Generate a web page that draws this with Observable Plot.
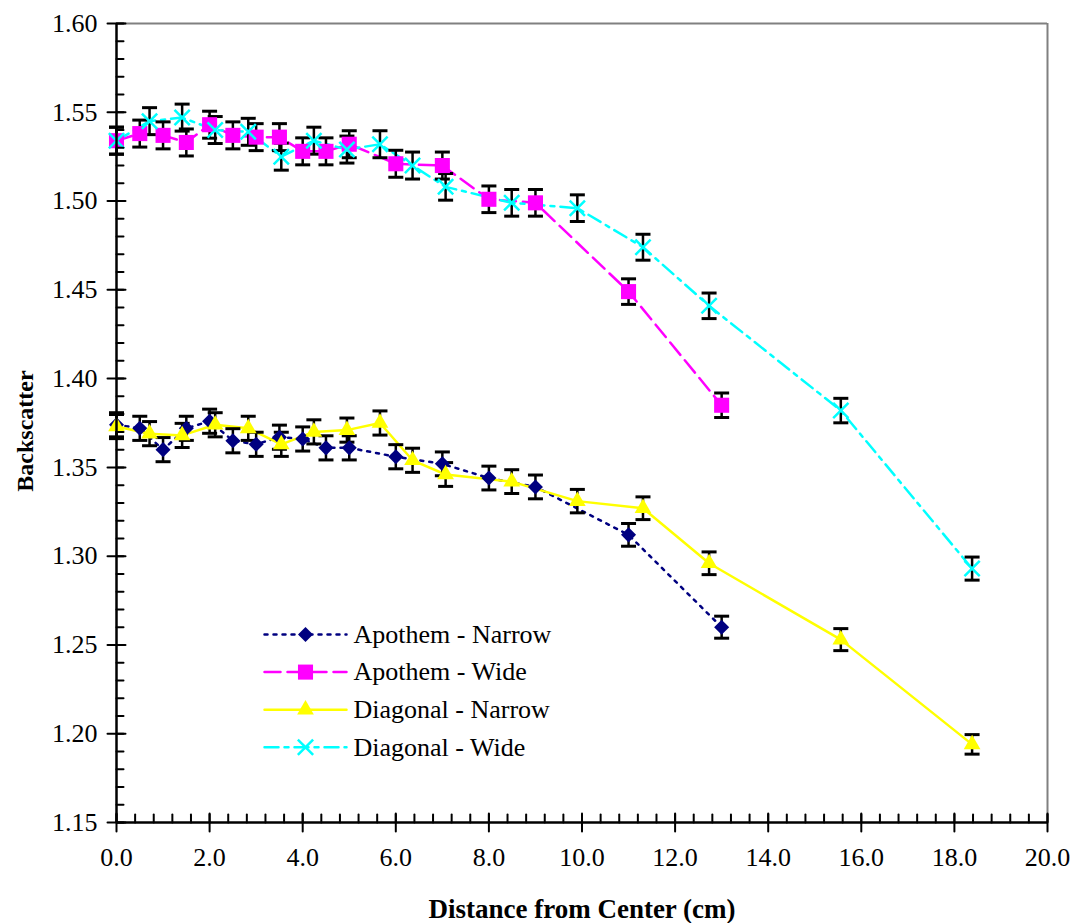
<!DOCTYPE html>
<html><head><meta charset="utf-8">
<script src="https://cdn.jsdelivr.net/npm/d3@7"></script>
<script src="https://cdn.jsdelivr.net/npm/@observablehq/plot@0.6"></script>
<style>
body{margin:0;background:#fff;}
#chart svg{display:block;}
#chart svg, #chart svg text{font-family:"Liberation Serif","DejaVu Serif",serif !important;}
</style></head><body><div id="chart"></div>
<script>
// ---- data ----
const seriesNames = ["Apothem - Narrow", "Apothem - Wide", "Diagonal - Narrow", "Diagonal - Wide"];
const apothemX = [0, 0.5, 1, 1.5, 2, 2.5, 3, 3.5, 4, 4.5, 5, 6, 7, 8, 9, 11, 13];
const diagonalX = [0, 0.71, 1.41, 2.12, 2.83, 3.54, 4.24, 4.95, 5.66, 6.36, 7.07, 8.49, 9.90, 11.31, 12.73, 15.56, 18.38];
const apothemNarrow = [1.374, 1.372, 1.360, 1.372, 1.376, 1.365, 1.363, 1.367, 1.366, 1.361, 1.361, 1.356, 1.352, 1.344, 1.339, 1.312, 1.260];
const apothemWide = [1.534, 1.538, 1.537, 1.533, 1.543, 1.537, 1.536, 1.536, 1.528, 1.528, 1.532, 1.521, 1.520, 1.501, 1.499, 1.449, 1.385];
const diagonalNarrow = [1.373, 1.369, 1.368, 1.374, 1.372, 1.363, 1.370, 1.371, 1.375, 1.354, 1.346, 1.342, 1.331, 1.327, 1.296, 1.253, 1.194];
const diagonalWide = [1.534, 1.545, 1.547, 1.540, 1.539, 1.525, 1.534, 1.529, 1.532, 1.520, 1.508, 1.499, 1.496, 1.474, 1.441, 1.382, 1.293];
const apothemNarrowErr = [0.0068, 0.0068, 0.0068, 0.0068, 0.0068, 0.0068, 0.0068, 0.0068, 0.0068, 0.0068, 0.0068, 0.0068, 0.0067, 0.0067, 0.0067, 0.0064, 0.0062];
const apothemWideErr = [0.0076, 0.0076, 0.0076, 0.0076, 0.0076, 0.0076, 0.0076, 0.0076, 0.0076, 0.0076, 0.0076, 0.0076, 0.0076, 0.0075, 0.0075, 0.0072, 0.0069];
const diagonalNarrowErr = [0.0068, 0.0068, 0.0068, 0.0068, 0.0068, 0.0068, 0.0068, 0.0068, 0.0068, 0.0068, 0.0067, 0.0067, 0.0066, 0.0064, 0.0064, 0.0062, 0.0055];
const diagonalWideErr = [0.0076, 0.0076, 0.0076, 0.0076, 0.0076, 0.0076, 0.0076, 0.0076, 0.0076, 0.0076, 0.0075, 0.0075, 0.0075, 0.0073, 0.0072, 0.0069, 0.0065];
const xTickLabels = [0, 2, 4, 6, 8, 10, 12, 14, 16, 18, 20];
const yTickLabels = [1.15, 1.20, 1.25, 1.30, 1.35, 1.40, 1.45, 1.50, 1.55, 1.60];
const xTitle = "Distance from Center (cm)";
const yTitle = "Backscatter";

// ---- styles ----
const styles = [
  {color: "#000080", dash: "3,6", symbol: "square", rotate: 45, r: 6, fill: "#000080", stroke: "none", sw: 0},
  {color: "#FF00FF", dash: "16,7", symbol: "square", rotate: 0, r: 8.5, fill: "#FF00FF", stroke: "none", sw: 0},
  {color: "#FFFF00", dash: null, symbol: "triangle", rotate: 0, r: 6.2, fill: "#FFFF00", stroke: "none", sw: 0},
  {color: "#00FFFF", dash: "14,6,4,6", symbol: "times", rotate: 0, r: 7, fill: "none", stroke: "#00FFFF", sw: 2.5}
];

const xsBySeries = [apothemX, apothemX, diagonalX, diagonalX];
const ysBySeries = [apothemNarrow, apothemWide, diagonalNarrow, diagonalWide];
const errBySeries = [apothemNarrowErr, apothemWideErr, diagonalNarrowErr, diagonalWideErr];

const rows = seriesNames.flatMap((name, s) =>
  xsBySeries[s].map((x, i) => ({series: name, s, x, y: ysBySeries[s][i], err: errBySeries[s][i]})));

const capSymbol = {draw(ctx, size) { const h = Math.sqrt(size / Math.PI); ctx.moveTo(-h, 0); ctx.lineTo(h, 0); }};
const lineShape = {draw(ctx, l) { ctx.moveTo(0, 0); ctx.lineTo(0, -l); }};

const yMinor = d3.range(115, 161).map(v => v / 100);
const xMinor = d3.range(0, 51).map(v => v * 0.4);

const font = "Liberation Serif, DejaVu Serif, serif";

const marks = [];
marks.push(Plot.ruleY([1.60], {stroke: "#808080", strokeWidth: 2}));
marks.push(Plot.ruleX([20], {stroke: "#808080", strokeWidth: 2}));
seriesNames.forEach((name, s) => {
  marks.push(Plot.line(rows.filter(d => d.s === s), {
    x: "x", y: "y", stroke: styles[s].color, strokeWidth: 2.5,
    strokeDasharray: styles[s].dash
  }));
});
marks.push(Plot.ruleX(rows, {x: "x", y1: d => d.y - d.err, y2: d => d.y + d.err, stroke: "black", strokeWidth: 2.5}));
marks.push(Plot.dot(rows, {x: "x", y: d => d.y + d.err, symbol: capSymbol, r: 7.5, fill: "none", stroke: "black", strokeWidth: 3}));
marks.push(Plot.dot(rows, {x: "x", y: d => d.y - d.err, symbol: capSymbol, r: 7.5, fill: "none", stroke: "black", strokeWidth: 3}));
seriesNames.forEach((name, s) => {
  const st = styles[s];
  marks.push(Plot.dot(rows.filter(d => d.s === s), {
    x: "x", y: "y", symbol: st.symbol, r: st.r, rotate: st.rotate,
    fill: st.fill, stroke: st.stroke, strokeWidth: st.sw
  }));
});
marks.push(Plot.ruleX([0], {stroke: "black", strokeWidth: 2.5}));
marks.push(Plot.ruleY([1.15], {stroke: "black", strokeWidth: 2.5}));
marks.push(Plot.vector(yMinor, {y: d => d, frameAnchor: "left", length: 7, rotate: 90, anchor: "start", shape: lineShape, stroke: "black", strokeWidth: 2}));
marks.push(Plot.vector(xMinor, {x: d => d, frameAnchor: "bottom", length: 8, rotate: 0, anchor: "start", shape: lineShape, stroke: "black", strokeWidth: 2}));
marks.push(Plot.vector(yTickLabels, {y: d => d, frameAnchor: "left", length: 18, rotate: 90, anchor: "middle", shape: lineShape, stroke: "black", strokeWidth: 2}));
marks.push(Plot.vector(xTickLabels, {x: d => d, frameAnchor: "bottom", length: 18, rotate: 0, anchor: "middle", shape: lineShape, stroke: "black", strokeWidth: 2}));
marks.push(Plot.axisY({ticks: yTickLabels, tickSize: 0, tickPadding: 19, tickFormat: d3.format(".2f"), fontSize: 26, fontFamily: font, label: null}));
marks.push(Plot.axisX({ticks: xTickLabels, tickSize: 0, tickPadding: 25, tickFormat: d3.format(".1f"), fontSize: 26, fontFamily: font, label: null}));
marks.push(Plot.text([xTitle], {frameAnchor: "bottom", dy: 87, fontSize: 27, fontWeight: "bold", fontFamily: font, textAnchor: "middle", lineAnchor: "middle"}));
marks.push(Plot.text([yTitle], {frameAnchor: "left", dx: -91, dy: 8, rotate: -90, fontSize: 24, fontWeight: "bold", fontFamily: font, textAnchor: "middle", lineAnchor: "middle"}));
seriesNames.forEach((name, s) => {
  const st = styles[s];
  const dy = 611 + s * 37.6;
  marks.push(Plot.vector([name], {frameAnchor: "top-left", dx: 148, dy, length: 82, rotate: 90, anchor: "start", shape: lineShape,
    stroke: st.color, strokeWidth: 2.5, strokeDasharray: st.dash}));
  marks.push(Plot.dot([name], {frameAnchor: "top-left", dx: 189, dy, symbol: st.symbol, r: st.r, rotate: st.rotate,
    fill: st.fill, stroke: st.stroke, strokeWidth: st.sw}));
  marks.push(Plot.text([name], {frameAnchor: "top-left", dx: 237, dy, fontSize: 26, fontFamily: font, textAnchor: "start", lineAnchor: "middle"}));
});

const chart = Plot.plot({
  width: 1076, height: 923,
  marginLeft: 116, marginRight: 29, marginTop: 23, marginBottom: 101,
  x: {domain: [0, 20]},
  y: {domain: [1.15, 1.60]},
  style: {fontFamily: font, background: "white", color: "black", fontSize: "22px"},
  marks
});
document.getElementById("chart").append(chart);
</script>
</body></html>
